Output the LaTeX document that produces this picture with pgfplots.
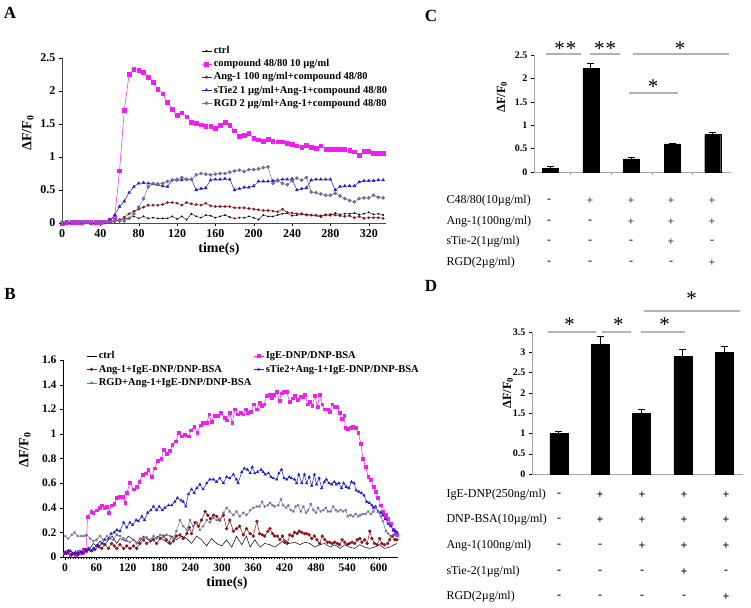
\documentclass[border=0pt]{standalone}
\usepackage{fontspec}
\setmainfont{Liberation Serif}
\usepackage{pgfplots}
\usepackage{pgfplotstable}
\pgfplotsset{compat=1.18}

\definecolor{cmag}{RGB}{240,30,240}
\definecolor{cred}{RGB}{140,20,25}
\definecolor{cblue}{RGB}{30,30,220}
\definecolor{cgray}{RGB}{110,110,155}

\pgfplotsset{
  panel/.style={scale only axis, anchor=south west, axis lines=left,
    axis line style={-}, tick align=outside, major tick length=3pt,
    clip=false, /pgf/number format/assume math mode=true,
    tick style={black}},
}
\newcommand\tickA{\fontsize{12}{13}\selectfont\bfseries}
\newcommand\tickB{\fontsize{11.5}{13}\selectfont\bfseries}
\newcommand\tickC{\fontsize{10}{11}\selectfont\bfseries}
\newcommand\lab{\fontsize{14}{15}\selectfont\bfseries}
\newcommand\labC{\fontsize{12.5}{13}\selectfont\bfseries}
\newcommand\leg{\fontsize{10.5}{11}\selectfont\bfseries}
\newcommand\ctab{\fontsize{12}{13}\selectfont}
\newcommand\sig{\fontsize{21}{21}\selectfont *}

% panel A, every 5 s
\pgfplotstableread{
t ctrl mag red blue gray
0 0.00 0.00 0.00 0.00 0.01
5 0.01 0.01 0.00 0.01 0.01
10 0.00 0.01 0.01 0.00 0.01
15 0.01 0.01 0.00 0.01 0.01
20 0.00 0.01 0.01 0.01 0.02
25 0.01 0.02 0.00 0.01 0.01
30 0.00 0.01 0.01 0.00 0.01
35 0.01 0.01 0.00 0.01 0.01
40 0.00 0.01 0.01 0.01 0.01
45 0.01 0.02 0.00 0.02 0.02
50 0.02 0.04 0.01 0.05 0.02
55 0.03 0.09 0.02 0.12 0.04
60 0.04 0.79 0.05 0.25 0.03
65 0.06 1.71 0.09 0.33 0.03
70 0.08 2.25 0.14 0.46 0.07
75 0.10 2.33 0.18 0.55 0.14
80 0.07 2.31 0.21 0.60 0.24
85 0.10 2.28 0.24 0.61 0.37
90 0.07 2.21 0.27 0.60 0.55
95 0.08 2.13 0.27 0.59 0.60
100 0.07 2.03 0.27 0.58 0.59
105 0.07 1.96 0.28 0.56 0.60
110 0.07 1.83 0.31 0.55 0.63
115 0.10 1.72 0.31 0.65 0.65
120 0.06 1.63 0.30 0.66 0.65
125 0.10 1.67 0.27 0.65 0.69
130 0.05 1.61 0.31 0.66 0.66
135 0.14 1.53 0.29 0.66 0.66
140 0.10 1.51 0.28 0.50 0.73
145 0.08 1.49 0.27 0.52 0.75
150 0.12 1.47 0.30 0.53 0.74
155 0.11 1.47 0.26 0.65 0.73
160 0.08 1.44 0.25 0.66 0.74
165 0.10 1.48 0.25 0.66 0.75
170 0.12 1.53 0.25 0.67 0.75
175 0.09 1.48 0.25 0.66 0.77
180 0.07 1.40 0.23 0.50 0.79
185 0.08 1.31 0.23 0.52 0.80
190 0.08 1.33 0.23 0.54 0.78
195 0.10 1.36 0.22 0.54 0.81
200 0.08 1.28 0.21 0.56 0.81
205 0.05 1.26 0.20 0.63 0.82
210 0.12 1.24 0.19 0.63 0.84
215 0.10 1.27 0.19 0.63 0.85
220 0.10 1.24 0.18 0.64 0.60
225 0.12 1.23 0.17 0.65 0.64
230 0.14 1.23 0.21 0.66 0.60
235 0.15 1.21 0.16 0.66 0.58
240 0.11 1.19 0.15 0.67 0.64
245 0.12 1.17 0.14 0.50 0.68
250 0.13 1.15 0.14 0.52 0.65
255 0.13 1.18 0.12 0.53 0.69
260 0.12 1.15 0.12 0.65 0.47
265 0.11 1.13 0.12 0.66 0.46
270 0.09 1.17 0.11 0.66 0.44
275 0.13 1.12 0.12 0.66 0.42
280 0.11 1.12 0.13 0.66 0.42
285 0.15 1.12 0.12 0.50 0.45
290 0.13 1.12 0.11 0.55 0.41
295 0.14 1.12 0.10 0.56 0.37
300 0.14 1.10 0.11 0.56 0.34
305 0.15 1.08 0.08 0.56 0.32
310 0.13 1.03 0.10 0.62 0.37
315 0.14 1.09 0.07 0.64 0.38
320 0.16 1.09 0.08 0.64 0.38
325 0.13 1.06 0.08 0.64 0.42
330 0.14 1.06 0.08 0.65 0.39
335 0.12 1.06 0.07 0.65 0.38
}\dataA

\begin{document}
\begin{tikzpicture}
\useasboundingbox (0,0) rectangle (751pt,607pt);

% ---------------- A
\begin{axis}[panel, at={(62pt,384pt)}, width=324pt, height=165pt,
  xmin=0, xmax=338, ymin=0, ymax=2.5,
  xtick={0,40,...,320}, ytick={0,0.5,1,1.5,2,2.5},
  ticklabel style={font=\tickA},
  axis line style={gray!60!black},
  legend style={draw=none, fill=none, font=\leg, at={(0.42,1.095)},
    anchor=north west, row sep=0.3pt},
  legend cell align=left,
  legend image code/.code={\draw[mark repeat=2,mark phase=2] plot coordinates {(0pt,0pt) (5pt,0pt) (10pt,0pt)};}]
\addplot[black, line width=0.4pt, mark=*, mark size=0.7pt] table[y=ctrl] {\dataA};
\addplot[cmag, line width=0.5pt, mark=square*, mark size=1.8pt] table[y=mag] {\dataA};
\addplot[cred, line width=0.5pt, mark=*, mark size=1.1pt] table[y=red] {\dataA};
\addplot[cblue, line width=0.5pt, mark=triangle*, mark size=1.6pt] table[y=blue] {\dataA};
\addplot[cgray, line width=0.5pt, mark=*, mark size=1.6pt] table[y=gray] {\dataA};
\legend{ctrl, compound 48/80 10 µg/ml, Ang-1 100 ng/ml+compound 48/80,
  sTie2 1 µg/ml+Ang-1+compound 48/80, RGD 2 µg/ml+Ang-1+compound 48/80}
\end{axis}

% ---------------- B
\begin{axis}[panel, at={(63pt,50pt)}, width=335pt, height=197pt,
  xmin=-4, xmax=637, ymin=0, ymax=1.6,
  xtick={0,60,...,600}, ytick={0,0.2,...,1.6},
  minor x tick num=11, minor tick length=2pt,
  yticklabel style={/pgf/number format/.cd, fixed, precision=1},
  ticklabel style={font=\tickB},
  legend style={draw=none, fill=none, font=\leg, at={(0.06,1.065)},
    anchor=north west, row sep=0.8pt},
  legend columns=2, legend cell align=left,
  legend image code/.code={\draw[mark repeat=2,mark phase=2] plot coordinates {(0pt,0pt) (5pt,0pt) (10pt,0pt)};}]
\addplot[black, line width=0.5pt] coordinates {(0,0.02) (10,0.03) (19,0.01) (29,0.05) (38,0.03) (48,0.07) (54,0.11) (60,0.09) (67,0.13) (76,0.10) (83,0.14) (90,0.17) (99,0.11) (105,0.15) (115,0.13) (121,0.17) (131,0.14) (140,0.11) (150,0.17) (159,0.14) (169,0.15) (178,0.17) (188,0.14) (198,0.11) (204,0.17) (213,0.14) (223,0.17) (233,0.15) (242,0.11) (252,0.17) (261,0.14) (271,0.09) (280,0.15) (290,0.11) (300,0.09) (309,0.14) (319,0.08) (328,0.17) (338,0.10) (347,0.17) (354,0.08) (363,0.14) (373,0.08) (382,0.11) (392,0.10) (401,0.08) (411,0.11) (420,0.14) (430,0.11) (440,0.12) (449,0.10) (459,0.12) (468,0.11) (478,0.08) (487,0.10) (497,0.11) (507,0.08) (516,0.10) (526,0.07) (535,0.10) (544,0.08) (554,0.07) (564,0.10) (573,0.08) (583,0.07) (592,0.08) (602,0.10) (611,0.07) (621,0.08) (630,0.10) (635,0.11)};
\addplot[cmag, line width=0.5pt, mark=square*, mark size=1.4pt] coordinates {(0,0.03) (5,0.04) (10,0.02) (15,0.03) (20,0.02) (25,0.04) (30,0.03) (35,0.06) (40,0.05) (43,0.33) (50,0.37) (54,0.36) (60,0.38) (66,0.40) (70,0.42) (75,0.40) (80,0.41) (83,0.36) (89,0.42) (94,0.43) (99,0.48) (105,0.49) (110,0.49) (115,0.44) (118,0.52) (124,0.60) (131,0.55) (137,0.57) (142,0.61) (148,0.67) (154,0.68) (159,0.71) (166,0.65) (171,0.72) (177,0.78) (184,0.80) (189,0.87) (195,0.84) (201,0.86) (205,0.91) (212,0.94) (218,1.01) (223,0.98) (229,0.99) (236,0.98) (241,1.03) (247,1.06) (253,1.01) (259,1.07) (264,1.09) (271,1.09) (276,1.16) (280,1.10) (286,1.15) (292,1.15) (298,1.17) (305,1.13) (309,1.11) (315,1.17) (320,1.09) (325,1.20) (330,1.16) (336,1.17) (341,1.16) (345,1.20) (350,1.17) (356,1.18) (361,1.24) (367,1.20) (372,1.25) (376,1.23) (381,1.24) (386,1.31) (391,1.32) (395,1.29) (400,1.32) (405,1.34) (410,1.27) (414,1.33) (419,1.34) (424,1.34) (430,1.26) (435,1.29) (440,1.31) (445,1.28) (450,1.30) (454,1.30) (459,1.32) (464,1.24) (468,1.26) (473,1.23) (478,1.31) (483,1.22) (487,1.32) (492,1.24) (497,1.20) (502,1.20) (506,1.18) (511,1.24) (516,1.22) (520,1.22) (525,1.17) (530,1.12) (534,1.15) (536,1.05) (541,1.04) (546,1.05) (551,1.06) (556,1.05) (561,1.01) (566,0.92) (570,0.80) (575,0.73) (580,0.65) (585,0.63) (590,0.57) (594,0.53) (599,0.48) (604,0.42) (608,0.37) (613,0.34) (618,0.31) (623,0.27) (628,0.22) (632,0.19) (635,0.18)};
\addplot[cred, line width=0.5pt, mark=*, mark size=1.4pt] coordinates {(0,0.03) (6,0.05) (13,0.02) (19,0.03) (25,0.02) (32,0.04) (38,0.06) (45,0.07) (51,0.05) (57,0.06) (64,0.09) (70,0.07) (76,0.10) (83,0.07) (89,0.11) (94,0.09) (99,0.07) (105,0.10) (112,0.07) (118,0.09) (124,0.07) (131,0.09) (137,0.07) (143,0.11) (150,0.14) (156,0.11) (163,0.13) (169,0.14) (175,0.11) (182,0.15) (188,0.17) (194,0.14) (201,0.11) (207,0.13) (213,0.17) (220,0.18) (226,0.15) (233,0.19) (238,0.24) (242,0.19) (249,0.28) (255,0.25) (261,0.30) (268,0.37) (273,0.34) (278,0.31) (284,0.34) (290,0.33) (296,0.30) (303,0.34) (309,0.23) (315,0.30) (322,0.21) (328,0.23) (334,0.25) (341,0.18) (347,0.23) (354,0.19) (360,0.17) (367,0.29) (372,0.19) (377,0.18) (382,0.17) (388,0.21) (392,0.23) (397,0.19) (401,0.17) (406,0.17) (411,0.14) (416,0.17) (420,0.12) (425,0.11) (430,0.18) (435,0.17) (439,0.20) (444,0.19) (448,0.21) (453,0.20) (458,0.19) (462,0.19) (467,0.18) (472,0.15) (477,0.17) (482,0.14) (487,0.11) (492,0.17) (497,0.14) (502,0.12) (506,0.12) (511,0.11) (516,0.12) (521,0.11) (525,0.10) (530,0.14) (535,0.12) (540,0.10) (544,0.11) (549,0.12) (554,0.11) (559,0.14) (564,0.15) (568,0.12) (573,0.14) (578,0.11) (583,0.21) (587,0.15) (592,0.11) (597,0.10) (602,0.15) (606,0.11) (611,0.10) (617,0.11) (621,0.14) (626,0.17) (631,0.14) (635,0.14)};
\addplot[cblue, line width=0.5pt, mark=triangle*, mark size=1.4pt] coordinates {(0,0.04) (5,0.03) (10,0.05) (15,0.03) (20,0.04) (25,0.03) (30,0.04) (35,0.03) (40,0.05) (45,0.06) (50,0.05) (54,0.07) (60,0.09) (65,0.08) (70,0.11) (76,0.14) (83,0.15) (88,0.19) (94,0.20) (99,0.22) (105,0.21) (112,0.28) (118,0.24) (124,0.28) (129,0.26) (136,0.30) (140,0.29) (147,0.33) (152,0.30) (158,0.36) (164,0.38) (169,0.41) (175,0.38) (180,0.41) (186,0.38) (191,0.40) (198,0.42) (204,0.42) (210,0.45) (215,0.48) (222,0.46) (226,0.45) (231,0.41) (236,0.51) (242,0.55) (247,0.52) (252,0.56) (258,0.59) (264,0.55) (271,0.60) (277,0.63) (284,0.63) (290,0.61) (296,0.64) (303,0.60) (309,0.65) (315,0.64) (322,0.67) (328,0.63) (331,0.60) (338,0.69) (343,0.72) (349,0.71) (354,0.68) (358,0.73) (363,0.68) (368,0.69) (375,0.71) (379,0.69) (383,0.67) (389,0.68) (394,0.65) (398,0.64) (405,0.63) (409,0.68) (414,0.71) (419,0.64) (424,0.63) (429,0.65) (433,0.64) (439,0.63) (443,0.60) (447,0.67) (453,0.60) (458,0.67) (462,0.60) (467,0.65) (472,0.58) (477,0.67) (481,0.59) (486,0.64) (491,0.56) (496,0.61) (500,0.63) (505,0.60) (510,0.59) (515,0.61) (519,0.59) (524,0.60) (529,0.56) (533,0.60) (538,0.57) (543,0.56) (548,0.61) (553,0.60) (557,0.54) (562,0.53) (567,0.52) (572,0.50) (577,0.45) (582,0.44) (587,0.42) (590,0.40) (594,0.41) (599,0.37) (604,0.36) (608,0.34) (613,0.31) (618,0.27) (623,0.25) (628,0.22) (632,0.21) (635,0.20)};
\addplot[cgray, line width=0.5pt, mark=asterisk, mark size=1.4pt] coordinates {(0,0.17) (6,0.15) (13,0.18) (18,0.20) (24,0.17) (31,0.17) (37,0.17) (41,0.18) (48,0.15) (54,0.13) (60,0.14) (67,0.17) (73,0.14) (80,0.17) (86,0.15) (92,0.14) (99,0.18) (105,0.17) (112,0.15) (118,0.13) (124,0.12) (131,0.14) (137,0.11) (143,0.15) (150,0.15) (156,0.16) (163,0.14) (169,0.17) (175,0.15) (182,0.18) (188,0.17) (194,0.18) (201,0.17) (207,0.15) (213,0.21) (220,0.30) (226,0.25) (233,0.22) (239,0.30) (245,0.25) (252,0.28) (258,0.22) (264,0.25) (271,0.30) (277,0.28) (284,0.32) (290,0.30) (296,0.30) (303,0.36) (309,0.40) (315,0.37) (322,0.34) (328,0.37) (334,0.33) (341,0.36) (347,0.34) (354,0.38) (360,0.40) (367,0.41) (372,0.41) (377,0.45) (382,0.41) (388,0.42) (392,0.44) (397,0.42) (401,0.41) (408,0.42) (413,0.47) (417,0.42) (423,0.40) (427,0.42) (432,0.38) (437,0.37) (441,0.41) (446,0.42) (451,0.37) (456,0.41) (461,0.36) (465,0.38) (470,0.43) (475,0.38) (480,0.36) (484,0.40) (489,0.37) (494,0.38) (499,0.40) (503,0.37) (508,0.37) (513,0.41) (518,0.38) (522,0.37) (527,0.38) (532,0.37) (537,0.38) (541,0.33) (546,0.34) (551,0.33) (556,0.35) (561,0.33) (565,0.34) (570,0.35) (575,0.35) (580,0.37) (585,0.35) (590,0.37) (594,0.40) (599,0.37) (604,0.33) (608,0.29) (614,0.21) (618,0.19) (623,0.17) (628,0.18) (632,0.18) (635,0.17)};
\legend{ctrl, IgE-DNP/DNP-BSA, Ang-1+IgE-DNP/DNP-BSA, sTie2+Ang-1+IgE-DNP/DNP-BSA, RGD+Ang-1+IgE-DNP/DNP-BSA}
\end{axis}

% ---------------- C
\begin{axis}[panel, at={(534pt,435pt)}, width=197pt, height=117pt,
  xmin=0.6, xmax=5.45, ymin=0, ymax=2.5,
  ytick={0,0.5,1,1.5,2,2.5}, xtick={1.5,2.5,3.5,4.5}, xticklabels={},
  ticklabel style={font=\tickC},
  axis line style={gray!70}, x tick style={gray!70}]
\addplot[ybar, bar width=16pt, fill=black, draw=black,
  error bars/.cd, y dir=plus, y explicit,
  error bar style={black, line width=0.8pt},
  error mark options={rotate=90, mark size=3.5pt, line width=0.8pt}]
  coordinates {(1,0.08) +- (0,0.05) (2,2.21) +- (0,0.12) (3,0.28) +- (0,0.03) (4,0.60) +- (0,0.02) (5,0.80) +- (0,0.04)};
\draw[gray!60, line width=1.2pt] (axis cs:0.90,2.52) -- (axis cs:1.76,2.52);
\draw[gray!60, line width=1.2pt] (axis cs:1.99,2.52) -- (axis cs:2.72,2.52);
\draw[gray!60, line width=1.2pt] (axis cs:3.04,2.52) -- (axis cs:5.39,2.52);
\draw[gray!60, line width=1.2pt] (axis cs:2.94,1.69) -- (axis cs:4.14,1.69);
\node[anchor=north, inner sep=0pt] at (axis cs:1.37,2.78) {\sig\kern1pt\sig};
\node[anchor=north, inner sep=0pt] at (axis cs:2.35,2.78) {\sig\kern1pt\sig};
\node[anchor=north, inner sep=0pt] at (axis cs:4.20,2.78) {\sig};
\node[anchor=north, inner sep=0pt] at (axis cs:3.53,1.97) {\sig};
\end{axis}

% ---------------- D
\begin{axis}[panel, at={(532pt,133pt)}, width=211pt, height=142pt,
  xmin=0.35, xmax=5.455, ymin=0, ymax=3.5,
  ytick={0,0.5,1,1.5,2,2.5,3,3.5}, xtick=\empty,
  ticklabel style={font=\tickC},
  axis line style={gray!70}]
\addplot[ybar, bar width=18pt, fill=black, draw=black,
  error bars/.cd, y dir=plus, y explicit,
  error bar style={black, line width=0.8pt},
  error mark options={rotate=90, mark size=3.5pt, line width=0.8pt}]
  coordinates {(1,1.00) +- (0,0.06) (2,3.20) +- (0,0.18) (3,1.50) +- (0,0.08) (4,2.90) +- (0,0.16) (5,3.00) +- (0,0.15)};
\draw[gray!60, line width=1.2pt] (axis cs:0.74,3.5) -- (axis cs:1.91,3.5);
\draw[gray!60, line width=1.2pt] (axis cs:2.05,3.5) -- (axis cs:2.75,3.5);
\draw[gray!60, line width=1.2pt] (axis cs:2.99,3.5) -- (axis cs:4.04,3.5);
\draw[gray!60, line width=1.2pt] (axis cs:3.06,4.02) -- (axis cs:5.38,4.02);
\node[anchor=north, inner sep=0pt] at (axis cs:1.26,3.86) {\sig};
\node[anchor=north, inner sep=0pt] at (axis cs:2.44,3.86) {\sig};
\node[anchor=north, inner sep=0pt] at (axis cs:3.56,3.86) {\sig};
\node[anchor=north, inner sep=0pt] at (axis cs:4.21,4.49) {\sig};
\end{axis}

% labels
\node[font=\fontsize{17}{17}\selectfont\bfseries] at (10pt,594pt) {A};
\node[font=\fontsize{17}{17}\selectfont\bfseries] at (10pt,313pt) {B};
\node[font=\fontsize{17}{17}\selectfont\bfseries] at (431pt,591pt) {C};
\node[font=\fontsize{17}{17}\selectfont\bfseries] at (431pt,321pt) {D};
\node[rotate=90, font=\lab] at (28pt,474pt) {ΔF/F\textsubscript{0}};
\node[rotate=90, font=\lab] at (25pt,157pt) {ΔF/F\textsubscript{0}};
\node[rotate=90, font=\labC] at (502pt,510pt) {ΔF/F\textsubscript{0}};
\node[rotate=90, font=\labC] at (508pt,214pt) {ΔF/F\textsubscript{0}};
\node[font=\lab] at (219pt,358pt) {time(s)};
\node[font=\lab] at (227pt,24pt) {time(s)};

% table under C
\node[anchor=west, font=\ctab] at (443pt,406pt) {C48/80(10µg/ml)};
\node[anchor=west, font=\ctab] at (443pt,385pt) {Ang-1(100ng/ml)};
\node[anchor=west, font=\ctab] at (443pt,365pt) {sTie-2(1µg/ml)};
\node[anchor=west, font=\ctab] at (443pt,344pt) {RGD(2µg/ml)};
\foreach \x/\s in {549/-,590/+,631/+,671/+,712/+} \node[font=\ctab] at (\x pt,406pt) {\s};
\foreach \x/\s in {549/-,590/-,631/+,671/+,712/+} \node[font=\ctab] at (\x pt,385pt) {\s};
\foreach \x/\s in {549/-,590/-,631/-,671/+,712/-} \node[font=\ctab] at (\x pt,365pt) {\s};
\foreach \x/\s in {549/-,590/-,631/-,671/-,712/+} \node[font=\ctab] at (\x pt,344pt) {\s};

% table under D
\node[anchor=west, font=\ctab] at (443pt,112pt) {IgE-DNP(250ng/ml)};
\node[anchor=west, font=\ctab] at (443pt,87pt) {DNP-BSA(10µg/ml)};
\node[anchor=west, font=\ctab] at (443pt,61pt) {Ang-1(100ng/ml)};
\node[anchor=west, font=\ctab] at (443pt,35pt) {sTie-2(1µg/ml)};
\node[anchor=west, font=\ctab] at (443pt,10pt) {RGD(2µg/ml)};
\foreach \x/\s in {559/-,600/+,642/+,684/+,726/+} \node[font=\ctab\bfseries] at (\x pt,112pt) {\s};
\foreach \x/\s in {559/-,600/+,642/+,684/+,726/+} \node[font=\ctab\bfseries] at (\x pt,87pt) {\s};
\foreach \x/\s in {559/-,600/-,642/+,684/+,726/+} \node[font=\ctab\bfseries] at (\x pt,61pt) {\s};
\foreach \x/\s in {559/-,600/-,642/-,684/+,726/-} \node[font=\ctab\bfseries] at (\x pt,35pt) {\s};
\foreach \x/\s in {559/-,600/-,642/-,684/-,726/+} \node[font=\ctab\bfseries] at (\x pt,10pt) {\s};
\end{tikzpicture}
\end{document}
